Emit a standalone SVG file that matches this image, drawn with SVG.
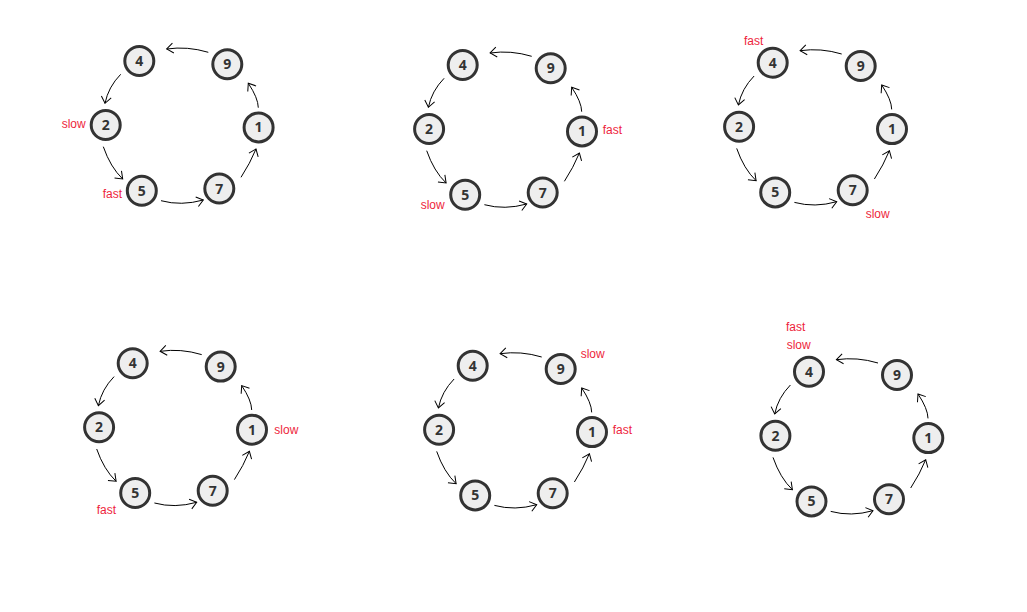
<svg xmlns="http://www.w3.org/2000/svg" width="1027" height="612" viewBox="0 0 1027 612">
<style>
.node circle{fill:#eeeeee;stroke:#333333;stroke-width:3}
.node text{font-family:"Open Sans","DejaVu Sans",sans-serif;font-weight:700;font-size:14px;fill:#333333;text-anchor:middle}
.edges path{fill:none;stroke:#000000;stroke-width:1;marker-end:url(#arr)}
.lbl{font-family:"Liberation Sans",Arial,sans-serif;font-size:12px;fill:#ee1f3c}
</style>
<defs>
<marker id="arr" markerUnits="userSpaceOnUse" markerWidth="16" markerHeight="16" refX="0" refY="0" viewBox="-8 -8 16 16" orient="auto" overflow="visible">
<path d="M-6.5,-5 L0,0 L-6.5,5" fill="none" stroke="#000" stroke-width="1"/>
</marker>
</defs>
<rect width="1027" height="612" fill="#ffffff"/>

<g id="panel1" transform="translate(139.3,61)">
<g id="p1-edges" class="edges">
<path d="M69,-8.7 Q48,-15 27.4,-12"/>
<path d="M-18.6,13.3 Q-31,26 -34.3,42.3"/>
<path d="M-36,85.7 Q-28.9,106.2 -16.6,118"/>
<path d="M21.7,139.7 Q42,145.2 64,139"/>
<path d="M101.7,116.3 Q110.8,102.4 116.7,88"/>
<path d="M119,46.7 Q118.8,36.9 109,22.3"/>
</g>
<g id="p1-n4" class="node"><circle cx="0" cy="0" r="14.5"/><text x="0" y="5">4</text></g>
<g id="p1-n9" class="node"><circle cx="88" cy="3.3" r="14.5"/><text x="88" y="8.3">9</text></g>
<g id="p1-n2" class="node"><circle cx="-33.6" cy="64" r="14.5"/><text x="-33.6" y="69">2</text></g>
<g id="p1-n1" class="node"><circle cx="119.3" cy="66.4" r="14.5"/><text x="119.3" y="71.4">1</text></g>
<g id="p1-n5" class="node"><circle cx="2.5" cy="129.7" r="14.5"/><text x="2.5" y="134.7">5</text></g>
<g id="p1-n7" class="node"><circle cx="80" cy="127.5" r="14.5"/><text x="80" y="132.5">7</text></g>
</g>
<text class="lbl" x="61.7" y="127.5">slow</text>
<text class="lbl" x="102.7" y="198">fast</text>

<g id="panel2" transform="translate(462.7,65)">
<g id="p2-edges" class="edges">
<path d="M69,-8.7 Q48,-15 27.4,-12"/>
<path d="M-18.6,13.3 Q-31,26 -34.3,42.3"/>
<path d="M-36,85.7 Q-28.9,106.2 -16.6,118"/>
<path d="M21.7,139.7 Q42,145.2 64,139"/>
<path d="M101.7,116.3 Q110.8,102.4 116.7,88"/>
<path d="M119,46.7 Q118.8,36.9 109,22.3"/>
</g>
<g id="p2-n4" class="node"><circle cx="0" cy="0" r="14.5"/><text x="0" y="5">4</text></g>
<g id="p2-n9" class="node"><circle cx="88" cy="3.3" r="14.5"/><text x="88" y="8.3">9</text></g>
<g id="p2-n2" class="node"><circle cx="-33.6" cy="64" r="14.5"/><text x="-33.6" y="69">2</text></g>
<g id="p2-n1" class="node"><circle cx="119.3" cy="66.4" r="14.5"/><text x="119.3" y="71.4">1</text></g>
<g id="p2-n5" class="node"><circle cx="2.5" cy="129.7" r="14.5"/><text x="2.5" y="134.7">5</text></g>
<g id="p2-n7" class="node"><circle cx="80" cy="127.5" r="14.5"/><text x="80" y="132.5">7</text></g>
</g>
<text class="lbl" x="602.7" y="134">fast</text>
<text class="lbl" x="420.7" y="209">slow</text>

<g id="panel3" transform="translate(772.7,62.7)">
<g id="p3-edges" class="edges">
<path d="M69,-8.7 Q48,-15 27.4,-12"/>
<path d="M-18.6,13.3 Q-31,26 -34.3,42.3"/>
<path d="M-36,85.7 Q-28.9,106.2 -16.6,118"/>
<path d="M21.7,139.7 Q42,145.2 64,139"/>
<path d="M101.7,116.3 Q110.8,102.4 116.7,88"/>
<path d="M119,46.7 Q118.8,36.9 109,22.3"/>
</g>
<g id="p3-n4" class="node"><circle cx="0" cy="0" r="14.5"/><text x="0" y="5">4</text></g>
<g id="p3-n9" class="node"><circle cx="88" cy="3.3" r="14.5"/><text x="88" y="8.3">9</text></g>
<g id="p3-n2" class="node"><circle cx="-33.6" cy="64" r="14.5"/><text x="-33.6" y="69">2</text></g>
<g id="p3-n1" class="node"><circle cx="119.3" cy="66.4" r="14.5"/><text x="119.3" y="71.4">1</text></g>
<g id="p3-n5" class="node"><circle cx="2.5" cy="129.7" r="14.5"/><text x="2.5" y="134.7">5</text></g>
<g id="p3-n7" class="node"><circle cx="80" cy="127.5" r="14.5"/><text x="80" y="132.5">7</text></g>
</g>
<text class="lbl" x="744" y="45">fast</text>
<text class="lbl" x="865.7" y="217.5">slow</text>

<g id="panel4" transform="translate(132.7,363.3)">
<g id="p4-edges" class="edges">
<path d="M69,-8.7 Q48,-15 27.4,-12"/>
<path d="M-18.6,13.3 Q-31,26 -34.3,42.3"/>
<path d="M-36,85.7 Q-28.9,106.2 -16.6,118"/>
<path d="M21.7,139.7 Q42,145.2 64,139"/>
<path d="M101.7,116.3 Q110.8,102.4 116.7,88"/>
<path d="M119,46.7 Q118.8,36.9 109,22.3"/>
</g>
<g id="p4-n4" class="node"><circle cx="0" cy="0" r="14.5"/><text x="0" y="5">4</text></g>
<g id="p4-n9" class="node"><circle cx="88" cy="3.3" r="14.5"/><text x="88" y="8.3">9</text></g>
<g id="p4-n2" class="node"><circle cx="-33.6" cy="64" r="14.5"/><text x="-33.6" y="69">2</text></g>
<g id="p4-n1" class="node"><circle cx="119.3" cy="66.4" r="14.5"/><text x="119.3" y="71.4">1</text></g>
<g id="p4-n5" class="node"><circle cx="2.5" cy="129.7" r="14.5"/><text x="2.5" y="134.7">5</text></g>
<g id="p4-n7" class="node"><circle cx="80" cy="127.5" r="14.5"/><text x="80" y="132.5">7</text></g>
</g>
<text class="lbl" x="274.3" y="433.5">slow</text>
<text class="lbl" x="96.7" y="514">fast</text>

<g id="panel5" transform="translate(472.7,365.7)">
<g id="p5-edges" class="edges">
<path d="M69,-8.7 Q48,-15 27.4,-12"/>
<path d="M-18.6,13.3 Q-31,26 -34.3,42.3"/>
<path d="M-36,85.7 Q-28.9,106.2 -16.6,118"/>
<path d="M21.7,139.7 Q42,145.2 64,139"/>
<path d="M101.7,116.3 Q110.8,102.4 116.7,88"/>
<path d="M119,46.7 Q118.8,36.9 109,22.3"/>
</g>
<g id="p5-n4" class="node"><circle cx="0" cy="0" r="14.5"/><text x="0" y="5">4</text></g>
<g id="p5-n9" class="node"><circle cx="88" cy="3.3" r="14.5"/><text x="88" y="8.3">9</text></g>
<g id="p5-n2" class="node"><circle cx="-33.6" cy="64" r="14.5"/><text x="-33.6" y="69">2</text></g>
<g id="p5-n1" class="node"><circle cx="119.3" cy="66.4" r="14.5"/><text x="119.3" y="71.4">1</text></g>
<g id="p5-n5" class="node"><circle cx="2.5" cy="129.7" r="14.5"/><text x="2.5" y="134.7">5</text></g>
<g id="p5-n7" class="node"><circle cx="80" cy="127.5" r="14.5"/><text x="80" y="132.5">7</text></g>
</g>
<text class="lbl" x="580.7" y="358">slow</text>
<text class="lbl" x="612.7" y="434">fast</text>

<g id="panel6" transform="translate(809,371.7)">
<g id="p6-edges" class="edges">
<path d="M69,-8.7 Q48,-15 27.4,-12"/>
<path d="M-18.6,13.3 Q-31,26 -34.3,42.3"/>
<path d="M-36,85.7 Q-28.9,106.2 -16.6,118"/>
<path d="M21.7,139.7 Q42,145.2 64,139"/>
<path d="M101.7,116.3 Q110.8,102.4 116.7,88"/>
<path d="M119,46.7 Q118.8,36.9 109,22.3"/>
</g>
<g id="p6-n4" class="node"><circle cx="0" cy="0" r="14.5"/><text x="0" y="5">4</text></g>
<g id="p6-n9" class="node"><circle cx="88" cy="3.3" r="14.5"/><text x="88" y="8.3">9</text></g>
<g id="p6-n2" class="node"><circle cx="-33.6" cy="64" r="14.5"/><text x="-33.6" y="69">2</text></g>
<g id="p6-n1" class="node"><circle cx="119.3" cy="66.4" r="14.5"/><text x="119.3" y="71.4">1</text></g>
<g id="p6-n5" class="node"><circle cx="2.5" cy="129.7" r="14.5"/><text x="2.5" y="134.7">5</text></g>
<g id="p6-n7" class="node"><circle cx="80" cy="127.5" r="14.5"/><text x="80" y="132.5">7</text></g>
</g>
<text class="lbl" x="786" y="331">fast</text>
<text class="lbl" x="786.7" y="349">slow</text>
</svg>
